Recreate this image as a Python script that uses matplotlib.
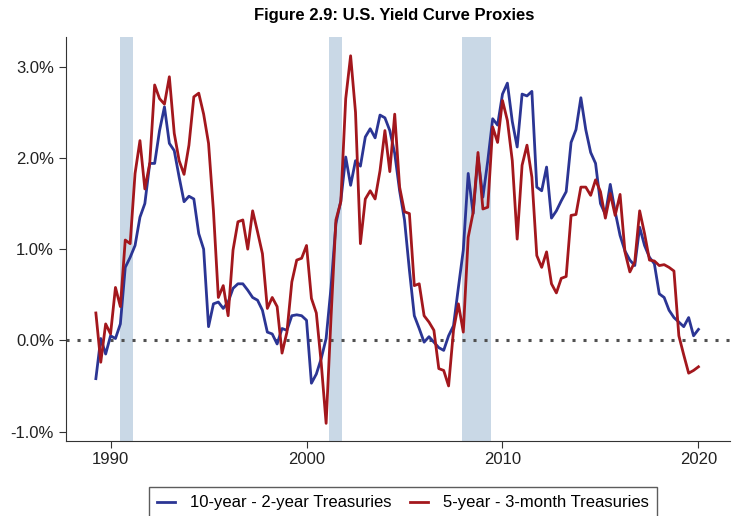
import numpy as np
import matplotlib
matplotlib.use("Agg")
import matplotlib.pyplot as plt

plt.rcParams['font.family'] = ['Liberation Sans', 'DejaVu Sans']

# quarterly, 1989Q2 .. 2020Q1
start_year = 1989.25
spread_10y2y = [
    -0.42, 0.02, -0.15,
    0.05, 0.02, 0.18, 0.80,
    0.91, 1.04, 1.35, 1.50,
    1.94, 1.94, 2.30, 2.56,
    2.16, 2.08, 1.79, 1.52,
    1.58, 1.55, 1.17, 1.00,
    0.15, 0.40, 0.42, 0.35,
    0.42, 0.57, 0.62, 0.62,
    0.55, 0.47, 0.44, 0.33,
    0.09, 0.07, -0.04, 0.13,
    0.11, 0.27, 0.28, 0.27,
    0.22, -0.47, -0.37, -0.20,
    0.02, 0.58, 1.28, 1.53,
    2.01, 1.70, 1.97, 1.91,
    2.23, 2.32, 2.22, 2.47,
    2.44, 2.30, 2.05, 1.64,
    1.32, 0.77, 0.27, 0.13,
    -0.02, 0.04, -0.02, -0.08,
    -0.11, 0.05, 0.16, 0.58,
    0.99, 1.83, 1.39, 2.01,
    1.57, 1.97, 2.43, 2.36,
    2.70, 2.82, 2.40, 2.12,
    2.70, 2.68, 2.73, 1.68,
    1.64, 1.90, 1.34, 1.42,
    1.53, 1.63, 2.17, 2.31,
    2.66, 2.31, 2.06, 1.94,
    1.50, 1.38, 1.71, 1.41,
    1.15, 0.98, 0.88, 0.82,
    1.24, 1.04, 0.91, 0.84,
    0.51, 0.47, 0.33, 0.25,
    0.20, 0.15, 0.25, 0.05,
    0.12,
]
spread_5y3m = [
    0.30, -0.24, 0.18,
    0.07, 0.58, 0.37, 1.10,
    1.06, 1.83, 2.19, 1.66,
    1.94, 2.80, 2.65, 2.59,
    2.89, 2.27, 1.97, 1.82,
    2.14, 2.67, 2.71, 2.48,
    2.16, 1.42, 0.47, 0.60,
    0.27, 0.99, 1.30, 1.32,
    1.00, 1.42, 1.19, 0.95,
    0.35, 0.47, 0.37, -0.14,
    0.09, 0.64, 0.88, 0.90,
    1.04, 0.46, 0.30, -0.25,
    -0.91, 0.25, 1.32, 1.52,
    2.65, 3.12, 2.50, 1.06,
    1.55, 1.64, 1.55, 1.86,
    2.30, 1.85, 2.48, 1.68,
    1.41, 1.39, 0.60, 0.62,
    0.27, 0.20, 0.11, -0.31,
    -0.33, -0.50, 0.11, 0.40,
    0.09, 1.13, 1.40, 2.06,
    1.44, 1.46, 2.34, 2.17,
    2.63, 2.41, 1.97, 1.11,
    1.92, 2.14, 1.79, 0.93,
    0.80, 0.97, 0.62, 0.52,
    0.68, 0.70, 1.37, 1.38,
    1.68, 1.68, 1.59, 1.76,
    1.63, 1.34, 1.61, 1.37,
    1.60, 0.97, 0.75, 0.86,
    1.42, 1.17, 0.88, 0.87,
    0.82, 0.83, 0.80, 0.76,
    0.05, -0.16, -0.36, -0.33,
    -0.29,
]
recessions = [(1990.5, 1991.17), (2001.17, 2001.83), (2007.92, 2009.42)]
x_ticks = [1990, 2000, 2010, 2020]
y_ticks = [-1, 0, 1, 2, 3]

t = start_year + 0.25 * np.arange(len(spread_10y2y))

fig = plt.figure(figsize=(7.32, 5.16), dpi=100)
ax = fig.add_axes([0.090, 0.146, 0.907, 0.783])

for a, b in recessions:
    ax.axvspan(a, b, color='#c9d8e6', lw=0)

ax.axhline(0, color='#505050', lw=2.2, ls=(0, (1, 2.6)))
ax.plot(t, spread_10y2y, color='#2b3594', lw=2, label='10-year - 2-year Treasuries')
ax.plot(t, spread_5y3m, color='#a3171d', lw=2, label='5-year - 3-month Treasuries')

ax.set_xlim(1987.72, 2021.6)
ax.set_ylim(-1.1, 3.33)
ax.set_xticks(x_ticks)
ax.set_yticks(y_ticks)
ax.set_yticklabels(['%.1f%%' % v for v in y_ticks])
ax.tick_params(labelsize=12, length=5, color='#333333', labelcolor='#222222')
for s in ['top', 'right']:
    ax.spines[s].set_visible(False)
for s in ['left', 'bottom']:
    ax.spines[s].set_color('#333333')

fig.suptitle('Figure 2.9: U.S. Yield Curve Proxies', fontsize=12, fontweight='bold', x=0.538, y=0.985)

leg = fig.legend(loc='upper center', bbox_to_anchor=(0.5505, 0.0562), ncol=2,
                 fontsize=12, frameon=True, fancybox=False, handlelength=1.08,
                 handletextpad=0.9, columnspacing=1.08, borderpad=0.5,
                 borderaxespad=0)
leg.get_frame().set_edgecolor('#333333')
leg.get_frame().set_linewidth(1.0)

fig.savefig('out.png', dpi=100)
